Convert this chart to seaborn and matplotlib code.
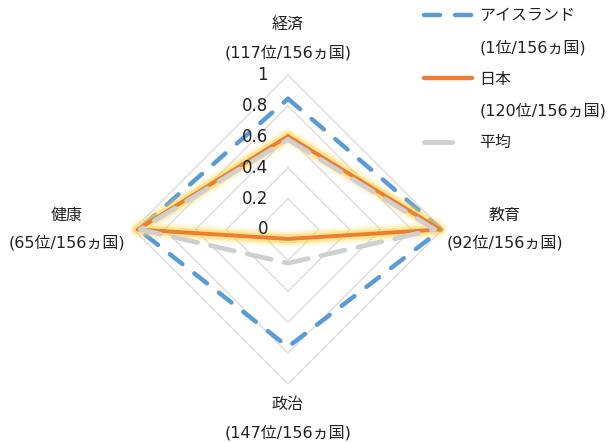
import numpy as np
import pandas as pd
import matplotlib
matplotlib.use("Agg")
import matplotlib.pyplot as plt
from matplotlib.lines import Line2D
import seaborn as sns

# ---- data ----
categories = ["経済", "教育", "政治", "健康"]
cat_ranks = ["(117位/156ヵ国)", "(92位/156ヵ国)", "(147位/156ヵ国)", "(65位/156ヵ国)"]
iceland = [0.846, 0.993, 0.760, 0.968]
japan = [0.604, 0.983, 0.061, 0.973]
average = [0.583, 0.950, 0.218, 0.957]
series_names = ["アイスランド", "日本", "平均"]
series_ranks = ["(1位/156ヵ国)", "(120位/156ヵ国)", ""]
ring_ticks = [0, 0.2, 0.4, 0.6, 0.8, 1.0]
ring_labels = ["0", "0.2", "0.4", "0.6", "0.8", "1"]

sns.set_theme(style="white")
plt.rcParams["font.family"] = ["DejaVu Sans", "Noto Sans CJK JP"]

W, H = 612, 443
CX, CY, R = 288, 229.5, 154.5
fig = plt.figure(figsize=(W / 100, H / 100), dpi=100)
ax = fig.add_axes([0, 0, 1, 1])
ax.set_xlim(-CX / R, (W - CX) / R)
ax.set_ylim(-(H - CY) / R, CY / R)
ax.axis("off")

# angles: top, right, bottom, left (clockwise)
angles = np.deg2rad([90, 0, -90, 180])
cos_a, sin_a = np.cos(angles), np.sin(angles)

def to_df(vals, name):
    v = np.array(vals + vals[:1])
    c = np.append(cos_a, cos_a[0])
    s = np.append(sin_a, sin_a[0])
    return pd.DataFrame({"x": v * c, "y": v * s, "order": range(len(v)), "series": name})

# rings
for r in ring_ticks[1:]:
    d = to_df([r] * 4, "ring")
    ax.plot(d["x"], d["y"], color="#D9D9D9", lw=0.9, zorder=1)

# ring labels
for r, lab in zip(ring_ticks, ring_labels):
    ax.text(-20 / R, r, lab, ha="right", va="center", fontsize=12, color="#222222", zorder=6)

# Iceland
d_ice = to_df(iceland, series_names[0])
sns.lineplot(data=d_ice, x="x", y="y", sort=False, estimator=None, ax=ax,
             color="#5B9BD5", lw=3.2, linestyle=(0, (3.6, 3.4)),
             dash_capstyle="round", zorder=3, legend=False)

# Japan with glow
d_jp = to_df(japan, series_names[1])
for lw_, al in [(12, 0.13), (9, 0.22), (6.5, 0.42)]:
    sns.lineplot(data=d_jp, x="x", y="y", sort=False, estimator=None, ax=ax,
                 color="#FFD54A", lw=lw_, alpha=al, zorder=3.5, legend=False,
                 solid_joinstyle="round", solid_capstyle="round")
sns.lineplot(data=d_jp, x="x", y="y", sort=False, estimator=None, ax=ax,
             color="#ED7D31", lw=2.8, zorder=4, legend=False, solid_joinstyle="round")

# Average
d_avg = to_df(average, series_names[2])
sns.lineplot(data=d_avg, x="x", y="y", sort=False, estimator=None, ax=ax,
             color="#CFCFCF", lw=3.4, linestyle=(0, (5.2, 2.8)),
             dash_capstyle="round", zorder=5, legend=False)

# category labels (pixel offsets from spoke tip)
label_pos = [(0, 204.5), (217, 14), (0, -175.5), (-221, 14)]
for (dx, dy), name, rank in zip(label_pos, categories, cat_ranks):
    x, y = dx / R, dy / R
    ax.text(x, y, name, ha="center", va="center", fontsize=11.5, color="#222222")
    ax.text(x, y - 27.5 / R, rank, ha="center", va="center", fontsize=11.5, color="#222222")

# legend
handles = [
    Line2D([], [], color="#5B9BD5", lw=3.2, linestyle=(0, (3.6, 3.4)), dash_capstyle="round"),
    Line2D([], [], color="none"),
    Line2D([], [], color="#ED7D31", lw=3.2),
    Line2D([], [], color="none"),
    Line2D([], [], color="#CFCFCF", lw=3.4, linestyle=(0, (6.0, 9.0)), dash_capstyle="round"),
]
labels = [series_names[0], series_ranks[0], series_names[1], series_ranks[1], series_names[2]]
leg = fig.legend(handles, labels, loc="upper left", bbox_to_anchor=(421 / W, 1 - 5 / H),
                 frameon=False, fontsize=11.5, handlelength=3.0, handletextpad=0.45,
                 labelspacing=1.03, borderaxespad=0, borderpad=0.2)
for t in leg.get_texts():
    t.set_color("#222222")

fig.savefig("out.png", dpi=100)
